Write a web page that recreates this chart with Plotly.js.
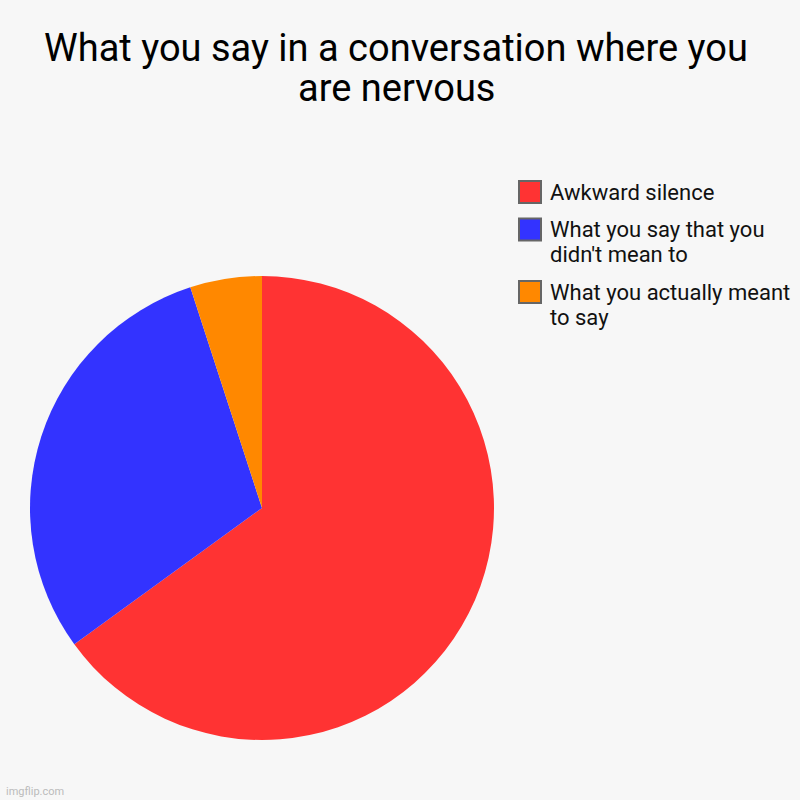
<!DOCTYPE html>
<html>
<head>
<meta charset="utf-8">
<script src="https://cdn.plot.ly/plotly-3.0.1.min.js"></script>
<style>
  html, body { margin: 0; padding: 0; background: #f7f7f7; }
  #chart { width: 800px; height: 800px; }
</style>
</head>
<body>
<div id="chart"></div>
<script>
// slices, clockwise from 12 o'clock
var labels = ['Awkward silence', "What you say that you didn't mean to", 'What you actually meant to say'];
var values = [65, 30, 5];
var colors = ['#ff3333', '#3333ff', '#ff8800'];

var W = 800, H = 800;
function px(x) { return x / W; }
function py(y) { return 1 - y / H; }

// wrap legend text roughly like the original
function wrap(s, max) {
  var words = s.split(' '), lines = [], cur = '';
  words.forEach(function (w) {
    if (cur && (cur + ' ' + w).length > max) { lines.push(cur); cur = w; }
    else cur = cur ? cur + ' ' + w : w;
  });
  if (cur) lines.push(cur);
  return lines;
}

var trace = {
  type: 'pie',
  labels: labels,
  values: values,
  marker: { colors: colors, line: { width: 0 } },
  sort: false,
  direction: 'clockwise',
  rotation: 0,
  textinfo: 'none',
  hoverinfo: 'label+percent',
  showlegend: false,
  domain: { x: [px(30), px(494)], y: [py(740), py(276)] }
};

// hand-made legend (squares with grey outline), one annotation per line
var shapes = [], annotations = [];
var base = 199, lineH = 25, gap = 12.5;
labels.forEach(function (lab, i) {
  var lines = wrap(lab, 23);
  shapes.push({
    type: 'rect', xref: 'paper', yref: 'paper',
    x0: px(519), x1: px(541), y0: py(base - 18), y1: py(base + 4),
    fillcolor: colors[i], line: { color: '#666666', width: 2 }
  });
  lines.forEach(function (ln, j) {
    annotations.push({
      xref: 'paper', yref: 'paper', x: px(548), y: py(base + j * lineH - 7),
      xanchor: 'left', yanchor: 'middle', align: 'left', showarrow: false,
      text: ln,
      font: { family: 'Roboto', size: 22, color: '#111111' }
    });
  });
  base += lines.length * lineH + gap;
});

// second title line, set tighter than plotly's own line spacing
annotations.push({
  xref: 'paper', yref: 'paper', x: px(396), y: py(88),
  xanchor: 'center', yanchor: 'middle', showarrow: false,
  text: 'are nervous',
  font: { family: 'Roboto', size: 38, color: '#000000' }
});

annotations.push({
  xref: 'paper', yref: 'paper', x: px(4), y: py(791),
  xanchor: 'left', yanchor: 'middle', showarrow: false,
  text: 'imgflip.com',
  font: { family: 'Roboto', size: 11, color: '#bbbbbb' }
});

var layout = {
  width: W, height: H,
  margin: { l: 0, r: 0, t: 0, b: 0 },
  paper_bgcolor: '#f7f7f7',
  plot_bgcolor: '#f7f7f7',
  title: {
    text: 'What you say in a conversation where you',
    font: { family: 'Roboto', size: 38, color: '#000000' },
    x: px(396), xanchor: 'center',
    y: py(48), yanchor: 'middle'
  },
  shapes: shapes,
  annotations: annotations,
  showlegend: false
};

Plotly.newPlot('chart', [trace], layout, { displayModeBar: false, staticPlot: true });
</script>
</body>
</html>
